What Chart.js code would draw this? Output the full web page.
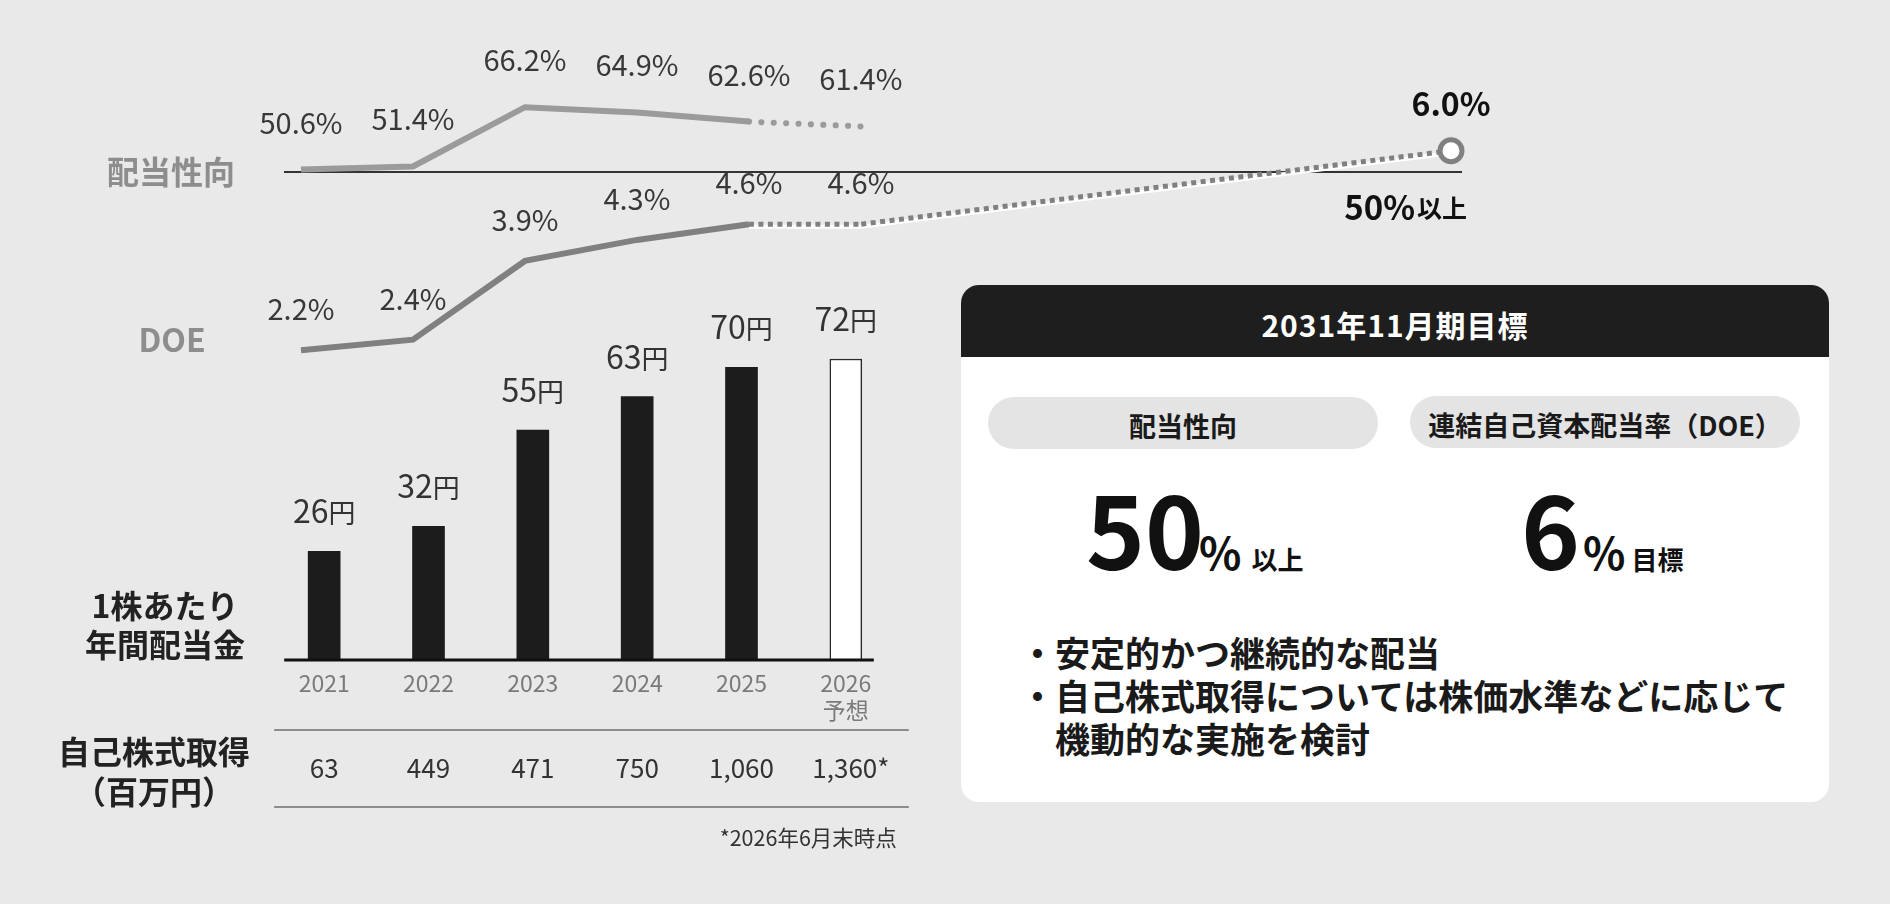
<!DOCTYPE html>
<html lang="ja">
<head>
<meta charset="utf-8">
<title>配当方針</title>
<script src="https://cdn.jsdelivr.net/npm/chart.js@4.4.1/dist/chart.umd.min.js"></script>
<style>
  html, body { margin: 0; padding: 0; }
  body {
    width: 1890px; height: 904px; position: relative; overflow: hidden;
    background: #e9e9e9;
    font-family: "Noto Sans CJK JP", "Noto Sans", sans-serif;
  }
  canvas { position: absolute; }
  #lineChart { left: 0; top: 0; }
  #barChart { left: 0; top: 200px; }

  .side {
    position: absolute; transform: translate(-50%, -50%);
    font-weight: 700; font-size: 32px; line-height: 40px;
    text-align: center; white-space: nowrap; color: #222;
  }
  .side.grey { color: #8d8d8d; }

  #card {
    position: absolute; left: 961px; top: 285px; width: 868px; height: 517px;
    background: #fff; border-radius: 18px; overflow: hidden;
  }
  #cardHead {
    height: 72px; line-height: 72px; padding-top: 3px; box-sizing: border-box;
    background: #1e1e1e; color: #fff; text-align: center;
    font-size: 30px; font-weight: 700; letter-spacing: 1px;
  }
  .pill {
    position: absolute; height: 52px; line-height: 52px; padding-top: 3px; box-sizing: border-box;
    border-radius: 26px; background: #e4e4e4; color: #1a1a1a;
    text-align: center; font-size: 27px; font-weight: 700;
  }
  #pill1 { left: 27px; top: 112px; width: 390px; }
  #pill2 { left: 449px; top: 111px; width: 390px; }
  .big { position: absolute; top: 192px; font-size: 100px; line-height: 1; font-weight: 700; color: #111; white-space: nowrap; }
  .big .pct { font-size: 44px; margin-left: -5px; }
  .big .suf { font-size: 26px; margin-left: 10px; }
  #big1 { left: 125px; }
  #big2 { left: 560px; }
  #big2 .pct { margin-left: 3px; }
  #big2 .suf { margin-left: 6px; }
  #notes {
    position: absolute; left: 59px; top: 345px;
    font-size: 35px; line-height: 43px; font-weight: 700; color: #1a1a1a;
  }
  #notes div { padding-left: 35px; text-indent: -35px; white-space: nowrap; }
</style>
</head>
<body>
<canvas id="lineChart" width="1890" height="420"></canvas>
<canvas id="barChart" width="960" height="704"></canvas>

<div class="side grey" style="left:171px; top:170px;">配当性向</div>
<div class="side grey" style="left:172px; top:338px;">DOE</div>
<div class="side" style="left:165px; top:624px; line-height:39px;">1株あたり<br>年間配当金</div>
<div class="side" style="left:154px; top:770px;">自己株式取得<br>（百万円）</div>

<div id="card">
  <div id="cardHead">2031年11月期目標</div>
  <div class="pill" id="pill1">配当性向</div>
  <div class="pill" id="pill2">連結自己資本配当率（DOE）</div>
  <div class="big" id="big1"><span>50</span><span class="pct">%</span><span class="suf">以上</span></div>
  <div class="big" id="big2"><span>6</span><span class="pct">%</span><span class="suf">目標</span></div>
  <div id="notes">
    <div>・安定的かつ継続的な配当</div>
    <div>・自己株式取得については株価水準などに応じて<br>機動的な実施を検討</div>
  </div>
</div>

<script>
// data
const years = [2021, 2022, 2023, 2024, 2025, 2026];
const yearLabels = ['2021', '2022', '2023', '2024', '2025', ['2026', '予想']];
const payoutRatio = [50.6, 51.4, 66.2, 64.9, 62.6, 61.4];
const doe = [2.2, 2.4, 3.9, 4.3, 4.6, 4.6];
const dividendPerShare = [26, 32, 55, 63, 70, 72];
const buyback = [63, 449, 471, 750, 1060, 1360];
const targetYear = 2031;
const payoutTarget = 50;
const doeTarget = 6.0;
const forecastIndex = 5;   // 2026 is a forecast
const footnote = '*2026年6月末時点';

const FONT = '"Noto Sans CJK JP", "Noto Sans", sans-serif';
const GREY_PAYOUT = '#9b9b9b';
const GREY_DOE = '#808080';

const pts = (xs, ys) => xs.map((x, i) => ({ x: x, y: ys[i] }));
const isForecast = ctx => ctx.p1DataIndex >= forecastIndex;

// line chart: payout ratio + DOE
const linePlugin = {
  id: 'lineExtras',
  beforeDatasetsDraw(chart) {
    const { ctx, scales } = chart;
    const y = scales.yp.getPixelForValue(payoutTarget);
    const x0 = scales.x.getPixelForValue(years[0]) - 17;
    const x1 = scales.x2.getPixelForValue(targetYear) + 11;
    ctx.save();
    ctx.strokeStyle = '#333';
    ctx.lineWidth = 2;
    ctx.beginPath();
    ctx.moveTo(x0, y);
    ctx.lineTo(x1, y);
    ctx.stroke();

    ctx.fillStyle = '#111';
    ctx.textBaseline = 'alphabetic';
    ctx.textAlign = 'right';
    ctx.font = '700 25px ' + FONT;
    ctx.fillText('以上', x1 + 5, y + 46);
    const w = ctx.measureText('以上').width;
    ctx.font = '700 33px ' + FONT;
    ctx.fillText(payoutTarget + '%', x1 + 3 - w, y + 48);
    ctx.restore();
  },
  beforeDatasetDraw(chart, args) {
    if (chart.data.datasets[args.index].underlay) {
      chart.ctx.save();
      chart.ctx.translate(0, 2.5);
    }
  },
  afterDatasetDraw(chart, args) {
    if (chart.data.datasets[args.index].underlay) chart.ctx.restore();
  },
  afterDatasetsDraw(chart) {
    const ctx = chart.ctx;
    ctx.save();
    ctx.textAlign = 'center';
    ctx.textBaseline = 'alphabetic';
    chart.data.datasets.forEach((ds, i) => {
      const lab = ds.valueLabel;
      if (!lab) return;
      ctx.font = lab.font;
      ctx.fillStyle = lab.color;
      chart.getDatasetMeta(i).data.forEach((pt, j) => {
        if (lab.skip && lab.skip.includes(j)) return;
        ctx.fillText(ds.data[j].y.toFixed(1) + '%', pt.x, pt.y + lab.dy);
      });
    });
    ctx.restore();
  }
};

const planData = [{ x: years[forecastIndex], y: doe[forecastIndex] }, { x: targetYear, y: doeTarget }];

new Chart(document.getElementById('lineChart'), {
  type: 'line',
  data: {
    datasets: [
      {
        label: '配当性向',
        data: pts(years, payoutRatio),
        xAxisID: 'x', yAxisID: 'yp',
        borderColor: GREY_PAYOUT, borderWidth: 6, pointRadius: 0, clip: false,
        segment: {
          borderDash: ctx => isForecast(ctx) ? [0.1, 12.3] : undefined,
          borderCapStyle: ctx => isForecast(ctx) ? 'round' : 'butt'
        },
        valueLabel: { font: '400 29px ' + FONT, color: '#383838', dy: -36 }
      },
      {
        label: 'DOE',
        data: pts(years, doe),
        xAxisID: 'x', yAxisID: 'yd',
        borderColor: GREY_DOE, borderWidth: 6, pointRadius: 0, clip: false,
        segment: {
          borderDash: ctx => isForecast(ctx) ? [5, 4.5] : undefined,
          borderWidth: ctx => isForecast(ctx) ? 5 : undefined
        },
        valueLabel: { font: '400 29px ' + FONT, color: '#383838', dy: -30 }
      },
      {
        label: 'DOE目標',
        data: planData,
        xAxisID: 'x2', yAxisID: 'yd',
        borderColor: GREY_DOE, borderWidth: 5, borderDash: [5, 4.5], clip: false,
        pointRadius: [0, 11], pointBackgroundColor: '#fff',
        pointBorderColor: GREY_DOE, pointBorderWidth: 5,
        valueLabel: { font: '700 32px ' + FONT, color: '#111', dy: -35, skip: [0] }
      },
      {
        underlay: true,
        data: pts(years.slice(forecastIndex - 1), doe.slice(forecastIndex - 1)),
        xAxisID: 'x', yAxisID: 'yd',
        borderColor: '#fff', borderWidth: 4, pointRadius: 0, clip: false
      },
      {
        underlay: true,
        data: planData,
        xAxisID: 'x2', yAxisID: 'yd',
        borderColor: '#fff', borderWidth: 4, pointRadius: 0, clip: false
      }
    ]
  },
  options: {
    responsive: false,
    animation: false,
    events: [],
    layout: { autoPadding: false, padding: { left: 301, right: 439, top: 0, bottom: 0 } },
    plugins: { legend: { display: false }, tooltip: { enabled: false } },
    scales: {
      x: { type: 'linear', display: false, min: 2021, max: 2031.27 },
      x2: { type: 'linear', display: false, min: 2021.25, max: 2031 },
      yp: { display: false, min: -12, max: 93 },
      yd: { display: false, min: 0.87, max: 8.87 }
    }
  },
  plugins: [linePlugin]
});

// bar chart: dividend per share + buyback table
const barPlugin = {
  id: 'barExtras',
  afterDatasetsDraw(chart) {
    const { ctx, scales } = chart;
    const xs = scales.x, y0 = scales.y.getPixelForValue(0);
    const first = xs.getPixelForValue(0), last = xs.getPixelForValue(years.length - 1);
    ctx.save();

    // axis line
    ctx.strokeStyle = '#111';
    ctx.lineWidth = 3;
    ctx.beginPath();
    ctx.moveTo(first - 40, y0);
    ctx.lineTo(last + 28, y0);
    ctx.stroke();

    // value labels
    ctx.fillStyle = '#333';
    ctx.textBaseline = 'alphabetic';
    ctx.textAlign = 'left';
    chart.getDatasetMeta(0).data.forEach((bar, i) => {
      const num = String(dividendPerShare[i]);
      ctx.font = '400 32px ' + FONT;
      const wn = ctx.measureText(num).width;
      ctx.font = '400 27px ' + FONT;
      const wy = ctx.measureText('円').width;
      const left = bar.x - (wn + wy) / 2;
      ctx.font = '400 32px ' + FONT;
      ctx.fillText(num, left, bar.y - 28);
      ctx.font = '400 27px ' + FONT;
      ctx.fillText('円', left + wn, bar.y - 28);
    });

    // buyback table
    ctx.strokeStyle = '#8c8c8c';
    ctx.lineWidth = 2;
    [70, 147].forEach(dy => {
      ctx.beginPath();
      ctx.moveTo(first - 50, y0 + dy);
      ctx.lineTo(last + 63, y0 + dy);
      ctx.stroke();
    });
    ctx.textAlign = 'center';
    ctx.textBaseline = 'middle';
    ctx.font = '400 26px ' + FONT;
    buyback.forEach((v, i) => {
      const txt = v.toLocaleString('en-US') + (i === forecastIndex ? '*' : '');
      ctx.fillText(txt, xs.getPixelForValue(i) + (i === forecastIndex ? 5 : 0), y0 + 108);
    });

    ctx.textAlign = 'right';
    ctx.font = '400 21.5px ' + FONT;
    ctx.fillText(footnote, last + 51, y0 + 178);
    ctx.restore();
  }
};

new Chart(document.getElementById('barChart'), {
  type: 'bar',
  data: {
    labels: yearLabels,
    datasets: [{
      label: '1株あたり年間配当金',
      data: dividendPerShare,
      backgroundColor: dividendPerShare.map((v, i) => i === forecastIndex ? '#fff' : '#1c1c1c'),
      borderColor: '#2a2a2a',
      borderWidth: dividendPerShare.map((v, i) => i === forecastIndex ? 1.5 : 0),
      borderSkipped: 'start',
      barThickness: 32
    }]
  },
  options: {
    responsive: false,
    animation: false,
    events: [],
    layout: { autoPadding: false, padding: { left: 272, right: 62, top: 42, bottom: 0 } },
    plugins: { legend: { display: false }, tooltip: { enabled: false } },
    scales: {
      y: { display: false, min: 0, max: 100 },
      x: {
        grid: { display: false, drawTicks: false },
        border: { display: false },
        ticks: { color: '#7a7a7a', font: { family: FONT, size: 23, lineHeight: 1.2 }, padding: 9 },
        afterFit: scale => { scale.height = 244; }
      }
    }
  },
  plugins: [barPlugin]
});
</script>
</body>
</html>
